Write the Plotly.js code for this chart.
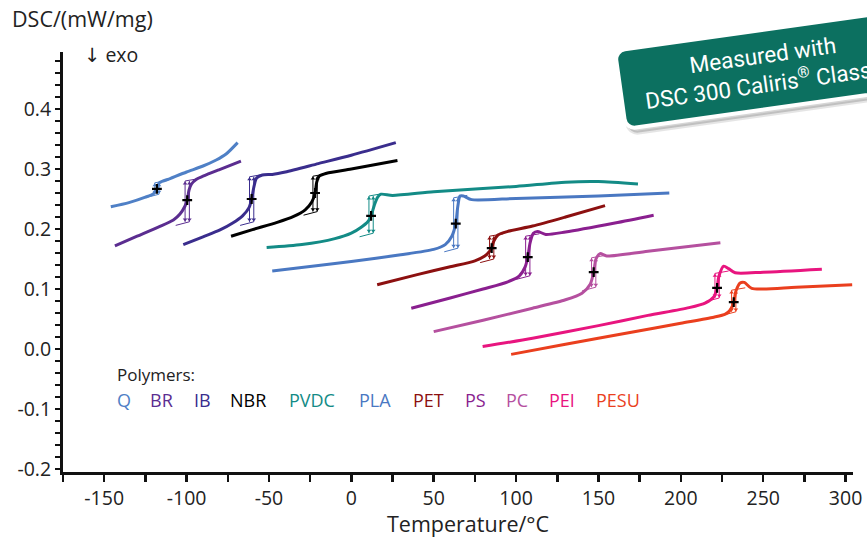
<!DOCTYPE html>
<html>
<head>
<meta charset="utf-8">
<script src="https://cdn.plot.ly/plotly-3.0.1.min.js"></script>
<style>html,body{margin:0;padding:0;background:#fff;}#chart{width:867px;height:538px;}</style>
</head>
<body>
<div id="chart"></div>
<script>
// ---- Data ----
const polymers = ["Q","BR","IB","NBR","PVDC","PLA","PET","PS","PC","PEI","PESU"];
const colors   = ["#4f80c6","#5b2d90","#3a2d8d","#000000","#138b86","#4a78c2","#8c1010","#8a1f8f","#b5509f","#e8157f","#ea3f1e"];

const qT = [-146,-135,-125,-120,-118,-116.5,-110,-100,-90,-82,-76,-69];
const qY = [0.237,0.244,0.253,0.259,0.267,0.277,0.284,0.295,0.305,0.315,0.325,0.344];
const brT = [-143.5,-130,-116.5,-108,-104,-101,-99.6,-98.5,-97,-94,-90,-80,-67];
const brY = [0.172,0.188,0.204,0.215,0.225,0.238,0.248,0.265,0.275,0.283,0.288,0.299,0.313];
const ibT = [-102,-90,-80,-72,-66,-62,-60.5,-59,-57.5,-54,-48,-40,-20,0,27];
const ibY = [0.174,0.187,0.198,0.210,0.222,0.236,0.250,0.272,0.285,0.290,0.291,0.295,0.309,0.323,0.344];
const nbrT = [-73,-60,-45,-35,-28,-24,-22,-21,-19.5,-15,0,28];
const nbrY = [0.188,0.199,0.211,0.221,0.232,0.245,0.260,0.278,0.288,0.293,0.300,0.314];
const pvdcT = [-51.4,-30,-10,0,6,10,12,14,16,18,25,50,100,130,150,174];
const pvdcY = [0.169,0.174,0.184,0.193,0.203,0.212,0.222,0.240,0.253,0.258,0.256,0.262,0.271,0.278,0.279,0.275];
const plaT = [-48,-20,0,30,50,57,61,63.4,64.5,66,68,73,100,150,193];
const plaY = [0.130,0.139,0.146,0.157,0.166,0.174,0.188,0.209,0.235,0.255,0.255,0.249,0.251,0.255,0.260];
const petT = [15.7,40,60,75,81,84,85.2,86.5,89,95,110,130,154];
const petY = [0.107,0.124,0.137,0.147,0.155,0.163,0.169,0.180,0.190,0.196,0.205,0.220,0.239];
const psT = [36.4,60,80,95,102,105.5,107.1,108.5,110.5,113,118,130,160,183.5];
const psY = [0.068,0.085,0.100,0.112,0.122,0.137,0.153,0.177,0.193,0.196,0.191,0.195,0.210,0.223];
const pcT = [50,80,110,130,140,145,147.1,148.5,151,155,180,224];
const pcY = [0.029,0.048,0.068,0.082,0.093,0.108,0.128,0.150,0.159,0.155,0.163,0.177];
const peiT = [79.7,110,150,180,205,215,220,222,223,226,229,233,250,285.6];
const peiY = [0.004,0.018,0.039,0.056,0.069,0.077,0.087,0.102,0.120,0.138,0.134,0.127,0.128,0.133];
const pesuT = [97,130,170,200,220,227,230,232.1,233.5,236,238.5,243,270,304];
const pesuY = [-0.009,0.008,0.028,0.043,0.053,0.058,0.065,0.078,0.097,0.110,0.111,0.101,0.103,0.107];

// Glass transition midpoints and step limits
const tgMidT  = [-118,-99.6,-60.5,-22,12,63.4,85.2,107.1,147.1,222,232.1];
const tgMidY  = [0.267,0.248,0.250,0.260,0.222,0.209,0.168,0.153,0.128,0.102,0.078];
const tgLowY  = [0.258,0.212,0.212,0.229,0.193,0.168,0.150,0.122,0.103,0.085,0.062];
const tgHighY = [0.277,0.280,0.287,0.288,0.255,0.252,0.188,0.188,0.152,0.126,0.098];

// Axis ticks
const xTicks = [-150,-100,-50,0,50,100,150,200,250,300];
const yTicks = [-0.2,-0.1,0.0,0.1,0.2,0.3,0.4];

const allT = [qT,brT,ibT,nbrT,pvdcT,plaT,petT,psT,pcT,peiT,pesuT];
const allY = [qY,brY,ibY,nbrY,pvdcY,plaY,petY,psY,pcY,peiY,pesuY];

// ---- Traces ----
const traces = [];
polymers.forEach((p,i) => {
  const m = tgMidT[i], lo = tgLowY[i], hi = tgHighY[i];
  traces.push({
    x:[m-7, m+1.3, m+1.3, null, m-1.3, m-1.3, m+7],
    y:[lo-0.006, lo, hi, null, lo, hi, hi+0.004],
    mode:'lines', line:{color:colors[i], width:1}, hoverinfo:'skip', showlegend:false
  });
  traces.push({
    x:[m+1.3, m+1.3, m-1.3, m-1.3], y:[lo+0.004, hi-0.004, lo+0.004, hi-0.004],
    mode:'markers', marker:{symbol:['triangle-down','triangle-up','triangle-down','triangle-up'], size:4, color:colors[i]},
    hoverinfo:'skip', showlegend:false
  });
  traces.push({
    x: allT[i], y: allY[i], name:p, mode:'lines',
    line:{color:colors[i], width:3, shape:'spline', smoothing:0.7},
    showlegend:false
  });
});
traces.push({
  x: tgMidT, y: tgMidY, mode:'markers',
  marker:{symbol:'cross-thin', size:7, color:'#000', line:{color:'#000', width:2.2}},
  showlegend:false, hoverinfo:'skip'
});

// ---- Layout ----
const font = "Open Sans, Noto Sans, DejaVu Sans, sans-serif";
const badgeFont = "Roboto, Noto Sans, sans-serif";
const labelX = [-143.3,-123.3,-96.6,-74.8,-39,3.5,36.2,67.7,92.6,118.7,147.2];
const badgeText = '\u00a0\u00a0Measured with\u00a0\u00a0<br>\u00a0\u00a0DSC 300 Caliris<sup>®</sup> Classic\u00a0\u00a0';
const px = v => (v-63)/790, py = v => (472-v)/420;
const annotations = [
  {xref:'paper', yref:'paper', x:px(10), y:py(18), xanchor:'left', yanchor:'middle', showarrow:false,
   text:'DSC/(mW/mg)', font:{family:font, size:21.5, color:'#222'}},
  {xref:'paper', yref:'paper', x:px(82), y:py(55), xanchor:'left', yanchor:'middle', showarrow:false,
   text:'↓ exo', font:{family:font, size:19.5, color:'#222'}},
  {xref:'paper', yref:'paper', x:px(468), y:py(523), xanchor:'center', yanchor:'middle', showarrow:false,
   text:'Temperature/°C', font:{family:font, size:21.5, color:'#222'}},
  {xref:'x', yref:'y', x:-143.3, y:-0.043, xanchor:'left', yanchor:'middle', showarrow:false,
   text:'Polymers:', font:{family:font, size:17, color:'#222'}},
  // badge shadow
  {xref:'paper', yref:'paper', x:px(765), y:py(70), xanchor:'center', yanchor:'middle',
   xshift:3, yshift:-5, showarrow:false, text:badgeText,
   font:{family:badgeFont, size:22.5, color:'rgba(0,0,0,0)'},
   bgcolor:'rgba(0,0,0,0.16)', borderpad:10, borderwidth:4, bordercolor:'rgba(0,0,0,0.10)'},
  {xref:'paper', yref:'paper', x:px(765), y:py(70), xanchor:'center', yanchor:'middle',
   showarrow:false, text:badgeText,
   font:{family:badgeFont, size:22.5, color:'#ffffff'},
   bgcolor:'#0c7060', borderpad:10, borderwidth:4, bordercolor:'#ffffff'}
];
polymers.forEach((p,i) => {
  annotations.push({xref:'x', yref:'y', x:labelX[i], y:-0.085, xanchor:'left', yanchor:'middle',
    showarrow:false, text:p, font:{family:font, size:18, color:colors[i]}});
});

const layout = {
  width:867, height:538,
  margin:{l:63, r:14, t:52, b:66},
  paper_bgcolor:'#fff', plot_bgcolor:'#fff',
  font:{family:font, color:'#222'},
  xaxis:{
    range:[-175,304.5], showgrid:false, zeroline:false,
    showline:true, linewidth:3, linecolor:'#111',
    tickmode:'array', tickvals:xTicks, ticktext:xTicks.map(v=>String(v)),
    ticks:'outside', ticklen:7, tickwidth:2.5, tickcolor:'#111',
    minor:{tickmode:'linear', tick0:-175, dtick:25, ticks:'outside', ticklen:7, tickwidth:2.5, tickcolor:'#111'},
    tickfont:{family:font, size:19.5, color:'#222'}
  },
  yaxis:{
    range:[-0.205,0.495], showgrid:false, zeroline:false,
    showline:true, linewidth:3, linecolor:'#111',
    tickmode:'array', tickvals:yTicks, ticktext:yTicks.map(v=>v.toFixed(1)),
    ticks:'outside', ticklen:5, tickwidth:2.5, tickcolor:'#111',
    minor:{tickmode:'linear', tick0:-0.2, dtick:0.02, ticks:'outside', ticklen:5, tickwidth:2.5, tickcolor:'#111'},
    tickfont:{family:font, size:19.5, color:'#222'}
  },
  annotations: annotations
};

Plotly.newPlot('chart', traces, layout, {staticPlot:true, displayModeBar:false}).then(gd => {
  // tilt the badge (annotations 4 and 5) and round its corners
  const groups = gd.querySelectorAll('g.annotation');
  [4,5].forEach(k => {
    const g = groups[k];
    if (!g) return;
    const bb = g.getBBox();
    const cx = bb.x + bb.width/2, cy = bb.y + bb.height/2;
    g.setAttribute('transform', 'rotate(-8,' + cx + ',' + cy + ')');
    g.querySelectorAll('rect').forEach(r => { r.setAttribute('rx', 10); r.setAttribute('ry', 10); });
  });
});
</script>
</body>
</html>
